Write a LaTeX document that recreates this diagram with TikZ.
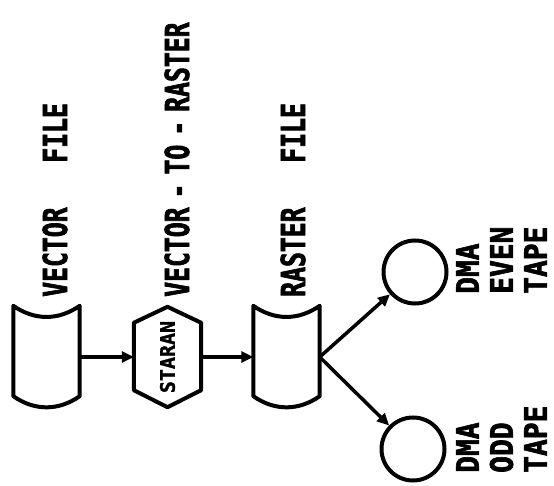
\documentclass[tikz,border=0pt]{standalone}
\usepackage{fontspec}
\usetikzlibrary{arrows.meta}
\newfontfamily\captionfont[FakeStretch=0.75,BoldFeatures={FakeBold=2}]{DejaVu Sans Mono}
\newfontfamily\tapefont[FakeStretch=0.9,BoldFeatures={FakeBold=2}]{DejaVu Sans Mono}
\newfontfamily\staranfont[BoldFeatures={FakeBold=1.5}]{DejaVu Sans Mono}
\begin{document}
\begin{tikzpicture}[x=1pt,y=-1pt]

\tikzset{filebox/.style={minimum width=66pt,minimum height=102pt,inner sep=0pt},}
\tikzset{hexbox/.style={minimum width=67pt,minimum height=100pt,inner sep=0pt},}
\tikzset{tapenode/.style={circle,draw,line width=4pt,minimum size=63pt,inner sep=0pt},}
\tikzset{outline/.style={line width=4pt,line join=round},}
\tikzset{flow/.style={-{Triangle[length=12pt,width=11pt]},line width=3.5pt},}
\tikzset{caption/.style={rotate=90,anchor=base west,inner sep=0pt,font=\captionfont\bfseries\fontsize{33}{33}\selectfont},}
\tikzset{tapelabel/.style={rotate=90,anchor=north west,inner sep=0pt,align=left,font=\tapefont\bfseries\fontsize{31}{34}\selectfont},}

\useasboundingbox (0,0) rectangle (554,486);

%FILES AND STARAN
\draw (46.5,357) node [filebox] (vfile) {};
\draw (167.5,357) node [hexbox] (staran) {};
\draw (286.5,357) node [filebox] (rfile) {};

\draw[outline] (vfile.north west) to[bend right=35] (vfile.north east) -- ([yshift=12pt]vfile.south east)
  to[bend left=35] ([yshift=12pt]vfile.south west) -- cycle;
\draw[outline] (rfile.north west) to[bend right=35] (rfile.north east) -- ([yshift=12pt]rfile.south east)
  to[bend left=35] ([yshift=12pt]rfile.south west) -- cycle;
\draw[outline] (staran.north) -- ([yshift=-16pt]staran.north east) -- ([yshift=17pt]staran.south east)
  -- (staran.south) -- ([yshift=17pt]staran.south west) -- ([yshift=-16pt]staran.north west) -- cycle;
\draw (staran.center) node [rotate=90,font=\staranfont\bfseries\fontsize{20}{20}\selectfont] (staranname) {STARAN};

%TAPES
\draw (415,272) node [tapenode] (even) {};
\draw (413,449) node [tapenode] (odd) {};

\draw[flow] (vfile.east) -- (staran.west);
\draw[flow] (staran.east) -- (rfile.west);
\draw[flow] (rfile.east) -- (even);
\draw[flow] (rfile.east) -- (odd);

%LABELS
\draw (67,297) node [caption] (vlabel) {VECTOR~~~FILE};
\draw (189,297) node [caption] (vtrlabel) {VECTOR\hspace{9pt}-\hspace{9pt}TO\hspace{9pt}-\hspace{9pt}RASTER};
\draw (305,297) node [caption] (rlabel) {RASTER~~~FILE};
\draw (456,294) node [tapelabel] (evenlabel) {DMA\\EVEN\\TAPE};
\draw (456,473) node [tapelabel] (oddlabel) {DMA\\ODD\\TAPE};

\end{tikzpicture}
\end{document}
